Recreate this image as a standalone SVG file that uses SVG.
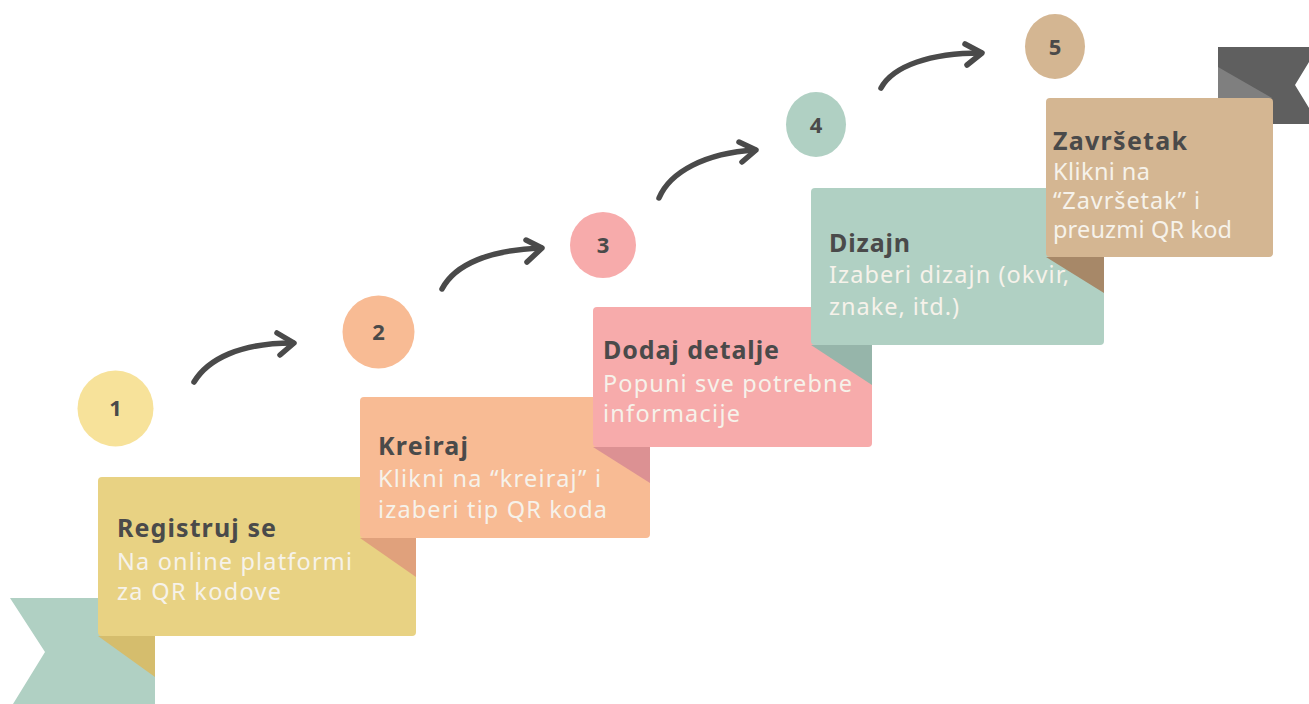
<svg xmlns="http://www.w3.org/2000/svg" width="1309" height="704" viewBox="0 0 1309 704">
<style>
.t{font-family:"Noto Sans","Liberation Sans",sans-serif;font-weight:700;font-size:25px;fill:#4a4a4a}
.b{font-family:"Noto Sans","Liberation Sans",sans-serif;font-size:23.5px;fill:#f6f2ea}
.n{font-family:"Noto Sans","Liberation Sans",sans-serif;font-weight:700;font-size:22px;fill:#4a4a4a;text-anchor:middle}
.arr{fill:none;stroke:#4a4a4a;stroke-width:5.5;stroke-linecap:round;stroke-linejoin:round}
</style>
<rect width="1309" height="704" fill="#ffffff"/>
<g id="ribbon-left">
<polygon points="10,598 155,598 155,704 13,704 45,652" fill="#b0d0c3"/>
</g>
<g id="ribbon-right">
<polygon points="1218,47 1309,47 1309,62 1295,85 1309,108 1309,124 1218,124" fill="#5f5f5f"/>
<polygon points="1218,67 1272,98 1218,98" fill="#7f7f7f"/>
</g>
<g id="step1">
<polygon points="98,636 155,636 155,677" fill="#d5bd6d"/>
<rect x="98" y="477" width="318" height="159" rx="4" fill="#e8d283"/>
<text class="t" x="117" y="537" textLength="159" lengthAdjust="spacing">Registruj se</text>
<text class="b" x="117" y="570" textLength="235" lengthAdjust="spacing">Na online platformi</text>
<text class="b" x="117" y="600" textLength="164" lengthAdjust="spacing">za QR kodove</text>
</g>
<g id="step2">
<polygon points="360,538 416,538 416,577" fill="#e0a17c"/>
<rect x="360" y="397" width="290" height="141" rx="4" fill="#f8bb94"/>
<text class="t" x="378" y="455" textLength="90" lengthAdjust="spacing">Kreiraj</text>
<text class="b" x="378" y="487" textLength="223" lengthAdjust="spacing">Klikni na “kreiraj” i</text>
<text class="b" x="378" y="518" textLength="229" lengthAdjust="spacing">izaberi tip QR koda</text>
</g>
<g id="step3">
<polygon points="593,447 650,447 650,483" fill="#dc9193"/>
<rect x="593" y="307" width="279" height="140" rx="4" fill="#f7abab"/>
<text class="t" x="603" y="359" textLength="176" lengthAdjust="spacing">Dodaj detalje</text>
<text class="b" x="603" y="392" textLength="249" lengthAdjust="spacing">Popuni sve potrebne</text>
<text class="b" x="603" y="422" textLength="137" lengthAdjust="spacing">informacije</text>
</g>
<g id="step4">
<polygon points="811,345 872,345 872,385" fill="#96b5aa"/>
<rect x="811" y="188" width="293" height="157" rx="4" fill="#b0d0c3"/>
<text class="t" x="829" y="252" textLength="81" lengthAdjust="spacing">Dizajn</text>
<text class="b" x="829" y="283" textLength="240" lengthAdjust="spacing">Izaberi dizajn (okvir,</text>
<text class="b" x="829" y="315" textLength="130" lengthAdjust="spacing">znake, itd.)</text>
</g>
<g id="step5">
<polygon points="1046,257 1104,257 1104,293" fill="#a78868"/>
<rect x="1046" y="98" width="227" height="159" rx="4" fill="#d4b692"/>
<text class="t" x="1053" y="150" textLength="134" lengthAdjust="spacing">Završetak</text>
<text class="b" x="1053" y="180" textLength="97" lengthAdjust="spacing">Klikni na</text>
<text class="b" x="1053" y="209" textLength="147" lengthAdjust="spacing">“Završetak” i</text>
<text class="b" x="1053" y="238" textLength="179" lengthAdjust="spacing">preuzmi QR kod</text>
</g>
<g id="num1"><ellipse cx="115.5" cy="408.5" rx="38" ry="38" fill="#f7e29a"/><text class="n" x="115.5" y="416">1</text></g>
<g id="num2"><ellipse cx="378.5" cy="332" rx="36" ry="36.5" fill="#f8bb94"/><text class="n" x="378.5" y="340">2</text></g>
<g id="num3"><ellipse cx="603" cy="245" rx="33" ry="33" fill="#f7abab"/><text class="n" x="603" y="253">3</text></g>
<g id="num4"><ellipse cx="816" cy="124.5" rx="30" ry="32.5" fill="#b0d0c3"/><text class="n" x="816" y="132.5">4</text></g>
<g id="num5"><ellipse cx="1055" cy="46.5" rx="30" ry="32.5" fill="#d4b692"/><text class="n" x="1055" y="54.5">5</text></g>
<g id="connectors">
<path class="arr" d="M194,382 C208,359 240,343 293,343"/>
<path class="arr" d="M277,333 L294,343 L280,355"/>
<path class="arr" d="M442,289 C455,264 490,250 541,248"/>
<path class="arr" d="M526,240 L542,248 L527,262"/>
<path class="arr" d="M659,198 C670,172 705,153 755,150"/>
<path class="arr" d="M739,142 L756,150 L742,162"/>
<path class="arr" d="M881,88 C893,66 930,53 981,53"/>
<path class="arr" d="M965,44 L982,53 L967,65"/>
</g>
</svg>
